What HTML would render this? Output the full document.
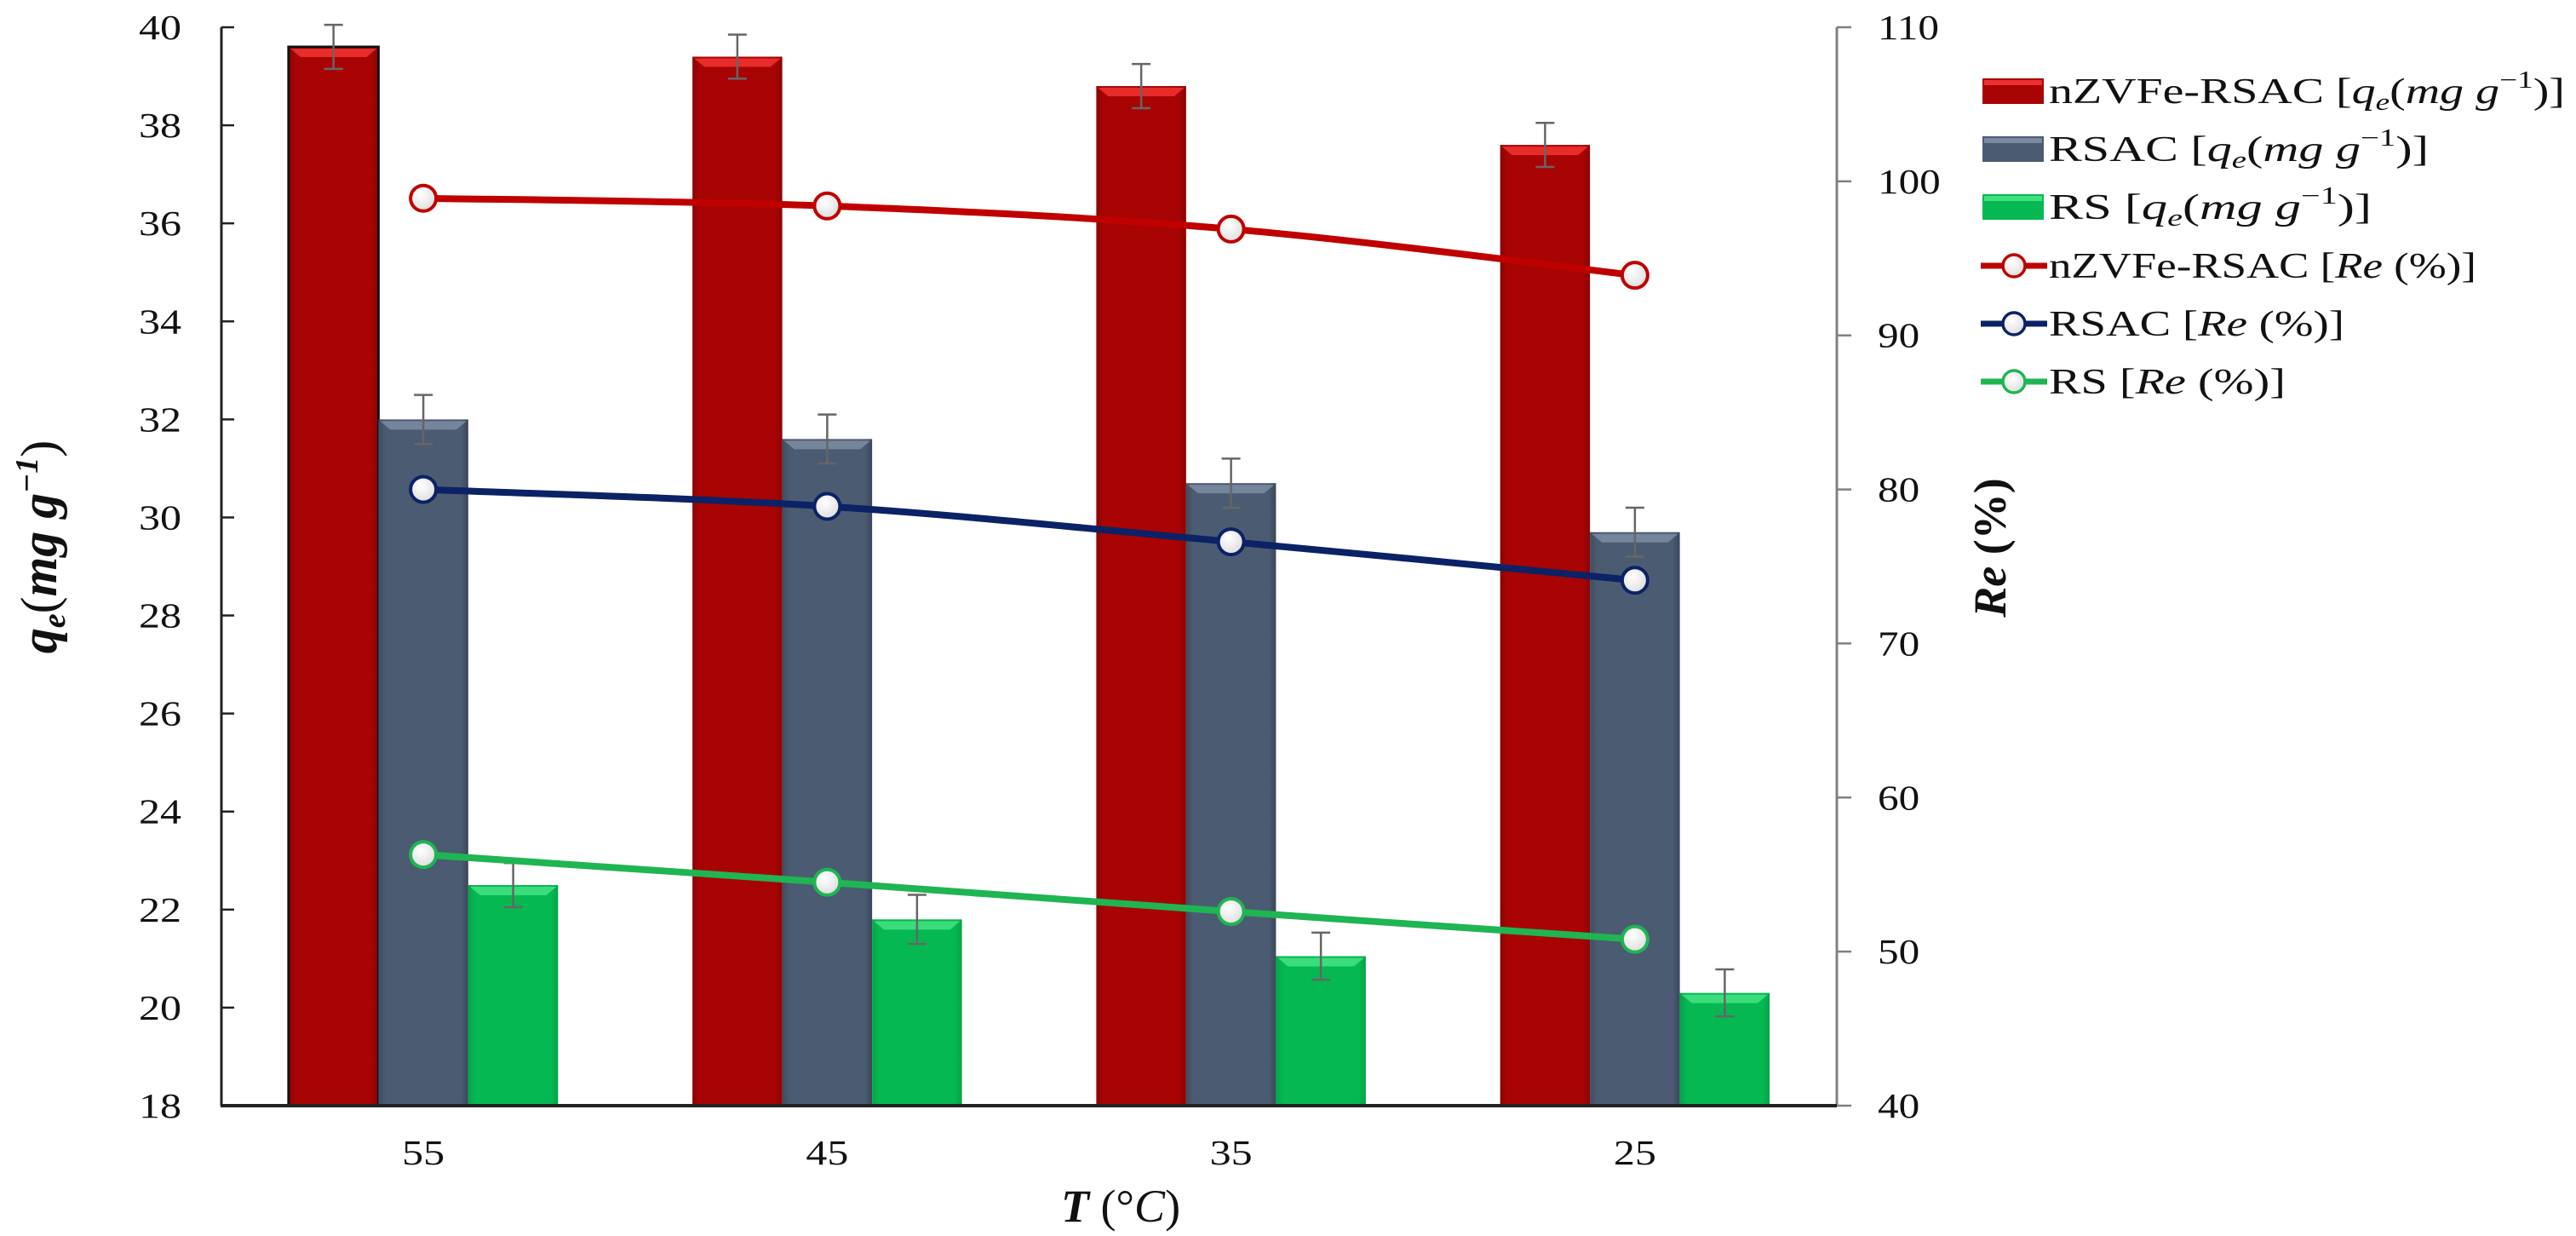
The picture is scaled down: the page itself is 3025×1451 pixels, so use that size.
<!DOCTYPE html>
<html><head><meta charset="utf-8"><style>
html,body{margin:0;padding:0;background:#fff;font-family:"Liberation Serif","DejaVu Serif",serif;}
svg{display:block;}
text{font-family:"Liberation Serif","DejaVu Serif",serif;}
</style></head><body>
<svg id="chart" width="3025" height="1451" viewBox="0 0 3025 1451">
<defs>
<linearGradient id="gRed" x1="0" y1="0" x2="1" y2="0"><stop offset="0" stop-color="#8a0303"/><stop offset="0.08" stop-color="#a80404"/><stop offset="0.92" stop-color="#a80404"/><stop offset="1" stop-color="#8a0303"/></linearGradient>
<linearGradient id="gGrey" x1="0" y1="0" x2="1" y2="0"><stop offset="0" stop-color="#3e4c60"/><stop offset="0.08" stop-color="#4b5b72"/><stop offset="0.92" stop-color="#4b5b72"/><stop offset="1" stop-color="#3a475a"/></linearGradient>
<linearGradient id="gGreen" x1="0" y1="0" x2="1" y2="0"><stop offset="0" stop-color="#04a448"/><stop offset="0.08" stop-color="#06b852"/><stop offset="0.92" stop-color="#06b852"/><stop offset="1" stop-color="#04a448"/></linearGradient>
<radialGradient id="gMark" cx="0.4" cy="0.35" r="0.7"><stop offset="0" stop-color="#ffffff"/><stop offset="1" stop-color="#dcdcdc"/></radialGradient>
</defs>
<g id="plot"></g>
<g id="legend"></g>
</svg>
<script>
const categories = ["55","45","35","25"];
const qeNZV = [39.6, 39.4, 38.8, 37.6];
const qeRSAC = [32.0, 31.6, 30.7, 29.7];
const qeRS = [22.5, 21.8, 21.05, 20.3];
const errNZV = [0.45, 0.45, 0.45, 0.45];
const errRSAC = [0.5, 0.5, 0.5, 0.5];
const errRS = [0.45, 0.5, 0.48, 0.48];
const reNZV = [98.9, 98.4, 96.9, 93.9];
const reRSAC = [80.0, 78.9, 76.6, 74.1];
const reRS = [56.3, 54.5, 52.6, 50.8];
const leftTicks = [18,20,22,24,26,28,30,32,34,36,38,40];
const rightTicks = [40,50,60,70,80,90,100,110];

const NS="http://www.w3.org/2000/svg";
const FF="'Liberation Serif','DejaVu Serif',serif";
const X0=260, X1=2157, YT=32, YB=1298;
const catW=(X1-X0)/categories.length;
const barW=105.5;
function yL(v){return YB-(v-18)/(40-18)*(YB-YT);}
function yR(v){return YB-(v-40)/(110-40)*(YB-YT);}
function xC(i){return X0+(i+0.5)*catW;}
function mk(tag,attrs,parent){const e=document.createElementNS(NS,tag);for(const k in attrs)e.setAttribute(k,attrs[k]);if(tag==='text')e.setAttribute('font-family',FF);parent.appendChild(e);return e;}
const plot=document.getElementById('plot');
const leg=document.getElementById('legend');

let a=mk('line',{x1:X0,y1:YT,x2:X0,y2:YB,stroke:'#222','stroke-width':3},plot);


a=mk('line',{x1:X1,y1:YT,x2:X1,y2:YB,stroke:'#808080','stroke-width':3},plot);



leftTicks.forEach(v=>{
  const y=yL(v);
  const t=mk('line',{x1:X0,y1:y,x2:X0+15,y2:y,stroke:'#222','stroke-width':2.5},plot);
  
  
  const tx=mk('text',{transform:`translate(213,${y+14}) scale(1.22,1)`,'text-anchor':'end','font-size':41,fill:'#111'},plot);
  tx.textContent=v;
  
  
});
rightTicks.forEach(v=>{
  const y=yR(v);
  const t=mk('line',{x1:X1,y1:y,x2:X1+17,y2:y,stroke:'#808080','stroke-width':2.5},plot);
  
  
  const tx=mk('text',{transform:`translate(2205,${y+14}) scale(1.2,1)`,'font-size':41,fill:'#111'},plot);
  tx.textContent=v;
  
  
});

const barSeries=[[qeNZV,errNZV,'url(#gRed)','#ee3030','nzvfe-rsac-qe-bar'],[qeRSAC,errRSAC,'url(#gGrey)','#7a8aa0','rsac-qe-bar'],[qeRS,errRS,'url(#gGreen)','#40e080','rs-qe-bar']];
barSeries.forEach((s,si)=>{
  s[0].forEach((v,i)=>{
    const x=xC(i)-1.5*barW+si*barW, y=yL(v);
    const r=mk('rect',{x:x,y:y,width:barW,height:YB-y,fill:s[2]},plot);
    if(si===0&&i===0){r.setAttribute('stroke','#111');r.setAttribute('stroke-width','3');}
    
    
    const hl=mk('polygon',{points:`${x+2},${y+2} ${x+barW-2},${y+2} ${x+barW-14},${y+12} ${x+14},${y+12}`,fill:s[3],opacity:0.9},plot);
    
    
    const cx=x+barW/2, e=s[1][i];
    const eb=mk('path',{d:`M${cx},${yL(v+e)}V${yL(v-e)}M${cx-11},${yL(v+e)}H${cx+11}M${cx-11},${yL(v-e)}H${cx+11}`,stroke:'#666','stroke-width':2.5,fill:'none'},plot);
    
    
  });
});
a=mk('line',{x1:X0-1,y1:YB,x2:X1,y2:YB,stroke:'#222','stroke-width':4},plot);



function smooth(pts){
  let d=`M${pts[0][0]},${pts[0][1]}`;
  for(let i=0;i<pts.length-1;i++){
    const p0=pts[Math.max(0,i-1)],p1=pts[i],p2=pts[i+1],p3=pts[Math.min(pts.length-1,i+2)];
    const c1=[p1[0]+(p2[0]-p0[0])/6,p1[1]+(p2[1]-p0[1])/6];
    const c2=[p2[0]-(p3[0]-p1[0])/6,p2[1]-(p3[1]-p1[1])/6];
    d+=` C${c1[0]},${c1[1]} ${c2[0]},${c2[1]} ${p2[0]},${p2[1]}`;
  }
  return d;
}
const lineSeries=[[reNZV,'#c00000','nzvfe-rsac-re-line'],[reRSAC,'#0b2266','rsac-re-line'],[reRS,'#1fb552','rs-re-line']];
lineSeries.forEach(s=>{
  const pts=s[0].map((v,i)=>[xC(i),yR(v)]);
  const p=mk('path',{d:smooth(pts),stroke:s[1],'stroke-width':8,fill:'none'},plot);
  
  
  pts.forEach((q,i)=>{
    const c=mk('circle',{cx:q[0],cy:q[1],r:15,fill:'url(#gMark)',stroke:s[1],'stroke-width':4},plot);
    
    
  });
});

categories.forEach((c,i)=>{
  const t=mk('text',{transform:`translate(${xC(i)},1367) scale(1.22,1)`,'text-anchor':'middle','font-size':41,fill:'#111'},plot);
  t.textContent=c;
  
  
});

const legY=[107,175,243,312,380,448];
const qeHtml='[<tspan font-style="italic">q</tspan><tspan font-style="italic" font-size="28" dy="8">e</tspan><tspan dy="-8">(</tspan><tspan font-style="italic">mg g</tspan><tspan font-size="28" dy="-18">−1</tspan><tspan dy="18">)]</tspan>';
const reHtml='[<tspan font-style="italic">Re</tspan> (%)]';
const legText=["nZVFe-RSAC "+qeHtml,"RSAC "+qeHtml,"RS "+qeHtml,"nZVFe-RSAC "+reHtml,"RSAC "+reHtml,"RS "+reHtml];
const legLen=[606,446,379,502,347,278];
const legColor=['#a80404','#4b5b72','#06b852','#c00000','#0b2266','#1fb552'];
const legHl=['#ee3030','#7a8aa0','#40e080'];
legY.forEach((y,i)=>{
  const g=mk('g',{},leg);
  
  
  if(i<3){
    mk('rect',{x:2328,y:y-15,width:72,height:30,fill:legColor[i]},g);
    mk('rect',{x:2330,y:y-13,width:68,height:6,fill:legHl[i]},g);
  } else {
    mk('line',{x1:2326,y1:y,x2:2404,y2:y,stroke:legColor[i],'stroke-width':7},g);
    mk('circle',{cx:2365,cy:y,r:13,fill:'url(#gMark)',stroke:legColor[i],'stroke-width':3.5},g);
  }
  const t=mk('text',{x:2406,y:y+14,'font-size':42,fill:'#111',textLength:legLen[i],lengthAdjust:'spacingAndGlyphs'},g);
  t.innerHTML=legText[i];
});

let t=mk('text',{transform:'translate(66,642) rotate(-90)','text-anchor':'middle','font-size':60,'font-weight':'bold','font-style':'italic',fill:'#111'},plot);
t.innerHTML='q<tspan font-size="38" dy="10">e</tspan><tspan dy="-10" font-style="normal" font-weight="normal">(</tspan>mg g<tspan font-size="38" dy="-22">−1</tspan><tspan dy="22" font-style="normal" font-weight="normal">)</tspan>';


t=mk('text',{transform:'translate(2355,643) rotate(-90)','text-anchor':'middle','font-size':54,'font-weight':'bold',fill:'#111'},plot);
t.innerHTML='<tspan font-style="italic">Re</tspan> (%)';


t=mk('text',{x:1316,y:1434,'text-anchor':'middle','font-size':54,fill:'#111'},plot);
t.innerHTML='<tspan font-weight="bold" font-style="italic">T</tspan> (°<tspan font-style="italic">C</tspan>)';


</script>
</body></html>
